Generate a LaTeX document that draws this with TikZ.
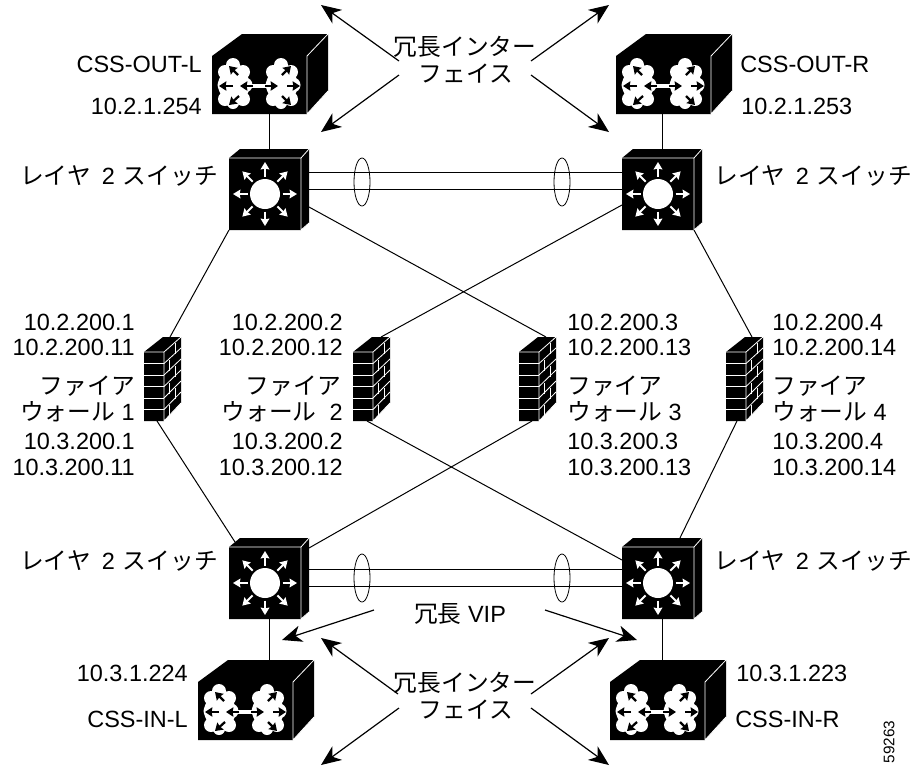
\documentclass[tikz,border=0pt]{standalone}
\usepackage{fontspec}
\usetikzlibrary{arrows.meta,calc}
\setmainfont{Liberation Sans}
\newfontfamily\jpf{Noto Sans CJK JP}
\newcommand{\jt}[1]{{\fontsize{17.8}{20}\jpf #1}}
\newcommand{\laytwo}{\jt{レイヤ}\hspace{3.5pt} 2\hspace{1pt} \jt{スイッチ}}
\tikzset{
  conn/.style={line width=0.75pt,black},
  callout/.style={line width=0.9pt,black,-{Stealth[length=15pt,width=12.5pt,inset=4.5pt]}},
  bundle/.style={line width=0.6pt,black},
  devbox/.style={inner sep=0,draw=none,fill=none},
  lbl/.style={inner sep=0,font=\fontsize{17.6}{20}\selectfont},
  lbr/.style={lbl,anchor=base east},
  lbs/.style={lbl,anchor=base west},
  lbc/.style={lbl,anchor=base},
  edgew/.style={white,line width=0.6pt},
  whitearrow/.style={white,line width=1.4pt,-{Stealth[length=5.5pt,width=6.5pt,inset=0.5pt]}},
  blackarrow/.style={black,line width=1.7pt,-{Stealth[length=5.5pt,width=7pt,inset=0.5pt]}},
  cloudw/.style={fill=white,draw=none}
}
% CSS box: front NW corner at #2,#3
\newcommand{\cssbox}[3]{%
\node[devbox,minimum width=87pt,minimum height=60pt] (#1) at (#2+58,#3+18) {};
\begin{scope}[shift={(#2,#3)}]
\fill[black] (0,0)--(30,-22)--(116,-22)--(116,35)--(95,58)--(0,58)--cycle;
\draw[edgew] (95,0)--(116,-22) (95,0)--(95,58) (95,58)--(116,35);
\foreach \dx in {0,48}{
\begin{scope}[shift={(\dx,0)}]
\fill[cloudw] (21,9) circle (7) (13,16) circle (7) (31,16) circle (7) (13,29) circle (7.5) (33,29) circle (7.5)
 (13,43) circle (7) (31,43) circle (7) (21,47) circle (6) (22,29) circle (16);
\end{scope}}
\draw[white,line width=3pt] (38,30)--(56,30);
\draw[blackarrow] (21,30)--(7,30);
\draw[blackarrow] (41,30)--(28,30);
\draw[blackarrow] (26,19)--(17,10);
\draw[blackarrow] (27,40)--(17,49);
\draw[blackarrow] (53,30)--(66,30);
\draw[blackarrow] (75,30)--(88,30);
\draw[blackarrow] (70,19)--(79,10);
\draw[blackarrow] (70,40)--(79,49);
\end{scope}}
% switch
\newcommand{\swbox}[3]{%
\node[devbox,minimum width=60pt,minimum height=60.75pt] (#1) at (#2+40,#3+31.5) {};
\begin{scope}[shift={(#2,#3)}]
\fill[black] (0,0)--(11,-9)--(80,-9)--(80,65)--(72,72)--(0,72)--cycle;
\draw[edgew] (0,0)--(72,0) (72,0)--(80,-9) (72,0)--(72,72) (72,72)--(80,65);
\fill[white] (36,36) circle (15);
\foreach \a in {0,45,...,315}{
\draw[whitearrow] ($(36,36)+(\a:17.5)$)--($(36,36)+(\a:32)$);}
\end{scope}}
% firewall
\newcommand{\fwbox}[3]{%
\node[devbox,minimum width=27.75pt,minimum height=63pt] (#1) at (#2+18.5,#3+27) {};
\begin{scope}[shift={(#2,#3)}]
\fill[black] (0,0)--(19,-15)--(37,-15)--(37,51)--(20,69)--(0,69)--cycle;
\draw[edgew] (0,0)--(20,0) (20,0)--(20,69) (20,69)--(37,51) (20,0)--(37,-15);
\foreach \k in {1,...,5}{
\draw[edgew] (0,{\k*11.5})--(20,{\k*11.5});
\draw[edgew] (20,{\k*11.5})--(37,{\k*11-15});}
\foreach \k in {0,2,4}{
\draw[edgew] (31,{\k*11.25-9})--(31,{\k*11.25+2});}
\foreach \k in {1,3,5}{
\draw[edgew] (25,{\k*11.25-3})--(25,{\k*11.25+8});}
\end{scope}}
\begin{document}
\begin{tikzpicture}[x=0.75pt,y=-0.75pt]
\useasboundingbox (0,0) rectangle (922,765);
\fill[white] (0,0) rectangle (922,765);
% devices
\cssbox{cssol}{212}{56}
\cssbox{cssor}{616}{56}
\swbox{swul}{229}{158}
\swbox{swur}{622}{158}
\fwbox{fwa}{144}{352}
\fwbox{fwb}{353}{352}
\fwbox{fwc}{519}{352}
\fwbox{fwd}{726}{352}
\swbox{swll}{229}{547}
\swbox{swlr}{622}{547}
\cssbox{cssil}{198}{682}
\cssbox{cssir}{610}{682}
% connection points
\coordinate (a1) at (269,114);\coordinate (a2) at (269,149);
\coordinate (b1) at (662,114);\coordinate (b2) at (662,149);
\coordinate (c1) at (309,172.5);\coordinate (c2) at (622,172.5);
\coordinate (d1) at (309,189);\coordinate (d2) at (622,189);
\coordinate (e1) at (309,569);\coordinate (e2) at (622,569);
\coordinate (f1) at (309,586);\coordinate (f2) at (622,586);
\coordinate (g1) at (229,230);\coordinate (g2) at (170,337);
\coordinate (h1) at (694,230);\coordinate (h2) at (752,337);
\coordinate (i1) at (309,207);\coordinate (i2) at (546,337);
\coordinate (j1) at (622,205);\coordinate (j2) at (381,337);
\coordinate (k1) at (157,421);\coordinate (k2) at (235,542);
\coordinate (l1) at (367,421);\coordinate (l2) at (622,560);
\coordinate (m1) at (532,421);\coordinate (m2) at (309,548);
\coordinate (n1) at (737,421);\coordinate (n2) at (678,542);
\coordinate (o1) at (269,618);\coordinate (o2) at (269,661);
\coordinate (p1) at (662,618);\coordinate (p2) at (662,661);
% connectors
\draw[conn] (a1)--(a2);\draw[conn] (b1)--(b2);
\draw[conn] (c1)--(c2);\draw[conn] (d1)--(d2);
\draw[conn] (e1)--(e2);\draw[conn] (f1)--(f2);
\draw[conn] (g1)--(g2);\draw[conn] (h1)--(h2);
\draw[conn] (i1)--(i2);\draw[conn] (j1)--(j2);
\draw[conn] (k1)--(k2);\draw[conn] (l1)--(l2);
\draw[conn] (m1)--(m2);\draw[conn] (n1)--(n2);
\draw[conn] (o1)--(o2);\draw[conn] (p1)--(p2);
% bundles
\draw[bundle] (362,182) ellipse (8 and 24);
\draw[bundle] (562,182) ellipse (8 and 24);
\draw[bundle] (362,578) ellipse (8 and 24);
\draw[bundle] (562,578) ellipse (8 and 24);
% callouts
\coordinate (t1) at (399,61);\coordinate (t1e) at (321,5);
\coordinate (t2) at (399,75);\coordinate (t2e) at (321,132);
\coordinate (t3) at (531,61);\coordinate (t3e) at (609,5);
\coordinate (t4) at (531,75);\coordinate (t4e) at (609,132);
\coordinate (v1) at (374,610);\coordinate (v1e) at (282,640);
\coordinate (v2) at (545,610);\coordinate (v2e) at (637,640);
\coordinate (u1) at (398,694);\coordinate (u1e) at (321,638);
\coordinate (u2) at (399,708);\coordinate (u2e) at (321,765);
\coordinate (u3) at (531,694);\coordinate (u3e) at (609,638);
\coordinate (u4) at (531,708);\coordinate (u4e) at (609,765);
\foreach \s/\e in {t1/t1e,t2/t2e,t3/t3e,t4/t4e,v1/v1e,v2/v2e,u1/u1e,u2/u2e,u3/u3e,u4/u4e}{
\draw[callout] (\s)--(\e);}
% labels
\node[lbr] (l01) at (202,72) {CSS-OUT-L};
\node[lbr] (l02) at (202,114) {10.2.1.254};
\node[lbs] (l03) at (740,72) {CSS-OUT-R};
\node[lbs] (l04) at (741,114) {10.2.1.253};
\node[lbc] (l05) at (465,55) {\jt{冗長インター}};
\node[lbc] (l06) at (466,82) {\jt{フェイス}};
\node[lbr] (l07) at (218,184) {\laytwo};
\node[lbs] (l08) at (714,184) {\laytwo};
\node[lbr] (l09) at (218,569) {\laytwo};
\node[lbs] (l10) at (714,569) {\laytwo};
\node[lbc] (l11) at (460,622) {\jt{冗長} VIP};
\node[lbc] (l12) at (465,691) {\jt{冗長インター}};
\node[lbc] (l13) at (466,718) {\jt{フェイス}};
\node[lbr] (l14) at (188,681) {10.3.1.224};
\node[lbr] (l15) at (188,727) {CSS-IN-L};
\node[lbs] (l16) at (736,681) {10.3.1.223};
\node[lbs] (l17) at (735,727) {CSS-IN-R};
% column 1
\node[lbr] (a01) at (135,330) {10.2.200.1};
\node[lbr] (a02) at (135,355) {10.2.200.11};
\node[lbr] (a03) at (135,394) {\jt{ファイア}};
\node[lbr] (a04) at (135,420) {\jt{ウォール} 1};
\node[lbr] (a05) at (135,449) {10.3.200.1};
\node[lbr] (a06) at (135,475) {10.3.200.11};
% column 2
\node[lbr] (b01) at (343,330) {10.2.200.2};
\node[lbr] (b02) at (343,355) {10.2.200.12};
\node[lbr] (b03) at (341,394) {\jt{ファイア}};
\node[lbr] (b04) at (343,420) {\jt{ウォール} \ 2};
\node[lbr] (b05) at (343,449) {10.3.200.2};
\node[lbr] (b06) at (343,475) {10.3.200.12};
% column 3
\node[lbs] (c01) at (567,330) {10.2.200.3};
\node[lbs] (c02) at (567,355) {10.2.200.13};
\node[lbs] (c03) at (567,394) {\jt{ファイア}};
\node[lbs] (c04) at (567,420) {\jt{ウォール} 3};
\node[lbs] (c05) at (567,449) {10.3.200.3};
\node[lbs] (c06) at (567,475) {10.3.200.13};
% column 4
\node[lbs] (d01) at (772,330) {10.2.200.4};
\node[lbs] (d02) at (772,355) {10.2.200.14};
\node[lbs] (d03) at (772,394) {\jt{ファイア}};
\node[lbs] (d04) at (772,420) {\jt{ウォール} 4};
\node[lbs] (d05) at (772,449) {10.3.200.4};
\node[lbs] (d06) at (772,475) {10.3.200.14};
\node[inner sep=0,rotate=90,font=\fontsize{11.5}{13}\selectfont] (num) at (889,742) {59263};
\end{tikzpicture}
\end{document}
